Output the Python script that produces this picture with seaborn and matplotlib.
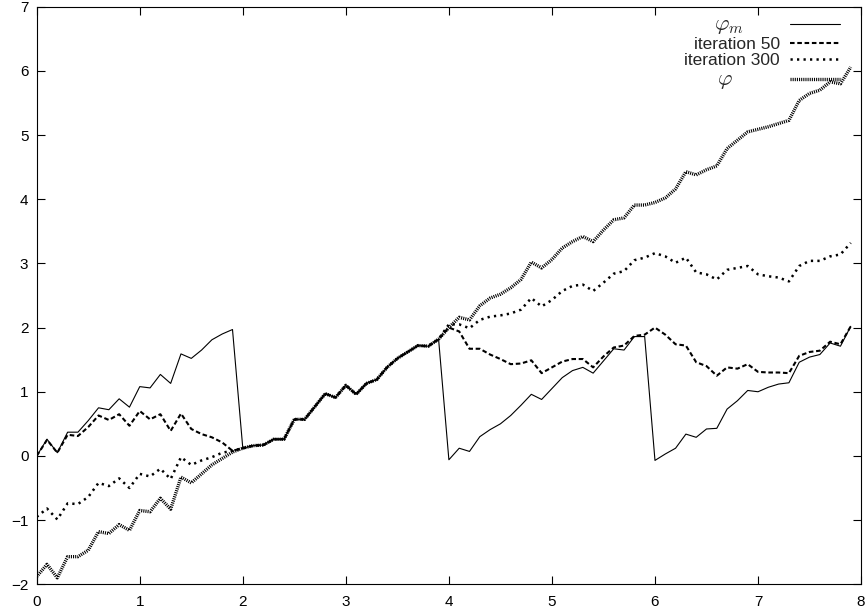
import numpy as np
import pandas as pd
import matplotlib
matplotlib.use("Agg")
import matplotlib.pyplot as plt
import seaborn as sns

# sampling grid (step 0.1 from 0 to 7.9)
x = np.round(np.arange(0, 8.0, 0.1), 1)

# wrapped phase
phi_m = [0.00, 0.26, 0.05, 0.37, 0.37, 0.55, 0.75, 0.72, 0.89, 0.76,
         1.08, 1.06, 1.27, 1.13, 1.59, 1.52, 1.65, 1.81, 1.90, 1.97,
         0.12, 0.16, 0.17, 0.26, 0.26, 0.57, 0.57, 0.77, 0.97, 0.91,
         1.10, 0.96, 1.13, 1.19, 1.38, 1.52, 1.62, 1.72, 1.71, 1.82,
         -0.06, 0.12, 0.07, 0.30, 0.41, 0.50, 0.63, 0.79, 0.96, 0.88,
         1.05, 1.22, 1.33, 1.38, 1.29, 1.48, 1.67, 1.65, 1.86, 1.86,
         -0.07, 0.03, 0.12, 0.34, 0.29, 0.42, 0.43, 0.73, 0.86, 1.02,
         1.00, 1.07, 1.12, 1.14, 1.46, 1.54, 1.58, 1.76, 1.71, 2.02]

iter_50 = [0.00, 0.25, 0.05, 0.33, 0.31, 0.45, 0.63, 0.56, 0.65, 0.47,
           0.70, 0.57, 0.65, 0.39, 0.66, 0.42, 0.34, 0.29, 0.21, 0.08,
           0.12, 0.16, 0.17, 0.26, 0.26, 0.57, 0.57, 0.77, 0.97, 0.91,
           1.10, 0.96, 1.13, 1.19, 1.38, 1.52, 1.62, 1.72, 1.71, 1.82,
           2.00, 1.94, 1.67, 1.67, 1.58, 1.51, 1.43, 1.44, 1.49, 1.29,
           1.38, 1.47, 1.51, 1.51, 1.38, 1.55, 1.69, 1.72, 1.87, 1.89,
           2.00, 1.89, 1.74, 1.72, 1.46, 1.40, 1.25, 1.38, 1.36, 1.43,
           1.31, 1.30, 1.30, 1.29, 1.56, 1.62, 1.64, 1.78, 1.74, 2.02]

iter_300 = [-0.95, -0.82, -0.99, -0.74, -0.75, -0.64, -0.42, -0.47, -0.35, -0.50,
            -0.28, -0.32, -0.20, -0.36, -0.02, -0.14, -0.07, -0.02, 0.05, 0.08,
            0.12, 0.16, 0.17, 0.26, 0.26, 0.57, 0.57, 0.77, 0.97, 0.91,
            1.10, 0.96, 1.13, 1.19, 1.38, 1.52, 1.62, 1.72, 1.71, 1.82,
            2.05, 2.05, 1.99, 2.12, 2.17, 2.19, 2.22, 2.28, 2.46, 2.33,
            2.43, 2.57, 2.65, 2.67, 2.57, 2.70, 2.84, 2.88, 3.05, 3.09,
            3.16, 3.11, 3.01, 3.09, 2.86, 2.83, 2.75, 2.90, 2.93, 2.96,
            2.83, 2.80, 2.78, 2.72, 2.96, 3.04, 3.04, 3.11, 3.14, 3.32]

# true (unwrapped) phase
phi = [-1.88, -1.69, -1.90, -1.57, -1.57, -1.47, -1.18, -1.21, -1.07, -1.16,
       -0.85, -0.87, -0.66, -0.83, -0.33, -0.42, -0.28, -0.14, -0.04, 0.06,
       0.12, 0.16, 0.17, 0.26, 0.26, 0.57, 0.57, 0.77, 0.97, 0.91,
       1.10, 0.96, 1.13, 1.19, 1.38, 1.52, 1.62, 1.72, 1.71, 1.82,
       2.00, 2.16, 2.12, 2.34, 2.46, 2.52, 2.62, 2.75, 3.02, 2.93,
       3.06, 3.24, 3.34, 3.42, 3.34, 3.52, 3.68, 3.71, 3.91, 3.91,
       3.95, 4.02, 4.16, 4.43, 4.38, 4.46, 4.52, 4.79, 4.92, 5.05,
       5.09, 5.13, 5.18, 5.23, 5.54, 5.65, 5.70, 5.83, 5.80, 6.06]

labels = [r"$\varphi_m$", "iteration 50", "iteration 300", r"$\varphi$"]
x_ticks = list(range(0, 9))
y_ticks = list(range(-2, 8))

sns.set_style("ticks")
plt.rcParams.update({
    "font.family": ["Liberation Sans", "DejaVu Sans"],
    "mathtext.fontset": "cm",
    "font.size": 11,
    "xtick.direction": "in",
    "ytick.direction": "in",
    "xtick.top": True,
    "ytick.right": True,
    "xtick.major.size": 5.5,
    "ytick.major.size": 5.5,
    "xtick.major.width": 0.8,
    "ytick.major.width": 0.8,
    "axes.linewidth": 0.8,
    "axes.edgecolor": "black",
    "xtick.color": "black",
    "ytick.color": "black",
})

df = pd.DataFrame({"x": x, "phi_m": phi_m, "it50": iter_50,
                   "it300": iter_300, "phi": phi})

fig = plt.figure(figsize=(8.68, 6.15), dpi=100)
ax = fig.add_axes([0.0423, 0.050, 0.9497, 0.939])

styles = [
    ("phi_m", dict(linewidth=0.8, linestyle="solid")),
    ("it50", dict(linewidth=1.5, linestyle=(0, (2.2, 1.3)))),
    ("it300", dict(linewidth=1.8, linestyle=(0, (0.9, 1.7)))),
    ("phi", dict(linewidth=2.4, linestyle=(0, (0.32, 0.32)))),
]
for (col, kw), label in zip(styles, labels):
    sns.lineplot(data=df, x="x", y=col, color="black", label=label,
                 ax=ax, **kw)

ax.set(xlim=(0, 8), ylim=(-2, 7), xlabel="", ylabel="")
ax.set_xticks(x_ticks)
ax.set_yticks(y_ticks)
ax.tick_params(labelsize=11)
ax.tick_params(axis="x", pad=8)
ax.tick_params(axis="y", pad=6)

# gnuplot-like key: text right-justified, sample on the right
leg = ax.legend(loc="upper right", bbox_to_anchor=(0.983, 1.0),
                frameon=False, markerfirst=False, fontsize=12.5,
                handlelength=2.9, handletextpad=0.57,
                labelspacing=0.05, borderaxespad=0.0)
texts = leg.get_texts()
texts[0].set_fontsize(16)
texts[3].set_fontsize(16)
texts[0].set_position((-36, 0))
texts[3].set_position((-47, 0))

fig.savefig("out.png", dpi=100)
